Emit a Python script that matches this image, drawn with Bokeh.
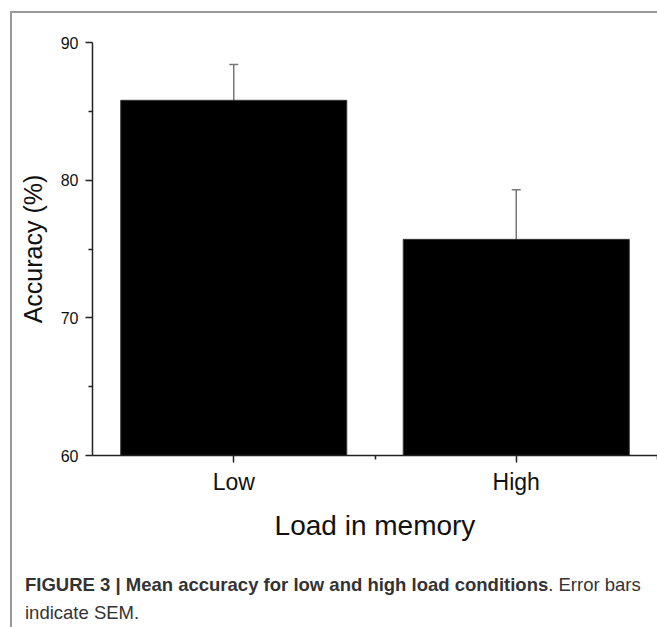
from bokeh.plotting import figure
from bokeh.layouts import column
from bokeh.models import FixedTicker, Range1d, Whisker, ColumnDataSource, TeeHead, Div
from bokeh.embed import file_html
from bokeh.resources import INLINE

categories = ["Low", "High"]
accuracy = [85.8, 75.7]
sem = [2.6, 3.6]
y_ticks = [60, 70, 80, 90]
y_minor = [65, 75, 85]
caption_bold = "FIGURE 3 | Mean accuracy for low and high load conditions"
caption_rest = ". Error bars"
caption_line2 = "indicate SEM."

positions = [i + 1 for i in range(len(categories))]
boundaries = [i + 1.5 for i in range(len(categories))]
upper = [a + s for a, s in zip(accuracy, sem)]

FONT = "Liberation Sans"
W = 645

p = figure(width=W, height=542, output_backend="svg", toolbar_location=None,
           x_range=Range1d(0.5, len(categories) + 0.5), y_range=Range1d(y_ticks[0], y_ticks[-1]),
           min_border_left=80, min_border_right=0, min_border_top=29, min_border_bottom=100)
p.outline_line_color = None
p.grid.visible = False

src = ColumnDataSource(dict(x=positions, top=accuracy, upper=upper))
p.vbar(x="x", top="top", bottom=y_ticks[0], width=0.8, source=src,
       fill_color="black", line_color="#333", line_width=1)
p.add_layout(Whisker(base="x", upper="upper", lower="top", source=src,
                     line_color="#777", line_width=1.5,
                     upper_head=TeeHead(size=9, line_color="#777", line_width=1.5),
                     lower_head=None))

p.xaxis.ticker = FixedTicker(ticks=positions, minor_ticks=boundaries)
p.xaxis.major_label_overrides = dict(zip(positions, categories))
p.xaxis.axis_label = "Load in memory"
p.yaxis.ticker = FixedTicker(ticks=y_ticks, minor_ticks=y_minor)
p.yaxis.axis_label = "Accuracy (%)"

for ax in (p.xaxis, p.yaxis):
    ax.axis_line_color = "#222"
    ax.axis_line_width = 1.5
    ax.major_tick_line_color = "#222"
    ax.major_tick_line_width = 1.5
    ax.minor_tick_line_color = "#222"
    ax.minor_tick_line_width = 1.5
    ax.major_tick_in = 0
    ax.major_tick_out = 7
    ax.minor_tick_in = 0
    ax.minor_tick_out = 4
    ax.major_label_text_font = FONT
    ax.major_label_text_color = "#111"
    ax.axis_label_text_font = FONT
    ax.axis_label_text_font_style = "normal"
    ax.axis_label_text_color = "#111"

p.xaxis.axis_label_text_font_size = "28px"
p.yaxis.axis_label_text_font_size = "25px"
p.xaxis.major_label_text_font_size = "23px"
p.yaxis.major_label_text_font_size = "16px"
p.xaxis.major_label_standoff = 6
p.yaxis.major_label_standoff = 7
p.xaxis.axis_label_standoff = 12
p.yaxis.axis_label_standoff = 11

# caption
caption_html = (
    f'<div style="padding-left:13px; padding-top:16px; font-family:\'{FONT}\', sans-serif; '
    f'font-size:18.5px; line-height:28px; color:#333; white-space:nowrap;">'
    f'<b>{caption_bold}</b>{caption_rest}<br>{caption_line2}</div>'
)
cap = Div(text=caption_html, width=W, height=72, margin=(0, 0, 0, 0))

layout = column(p, cap, spacing=0,
                styles={"margin-left": "10px", "margin-top": "11px",
                        "border-left": "2px solid #999", "border-top": "2px solid #999"})

open("out.html", "w").write(file_html(layout, INLINE))
